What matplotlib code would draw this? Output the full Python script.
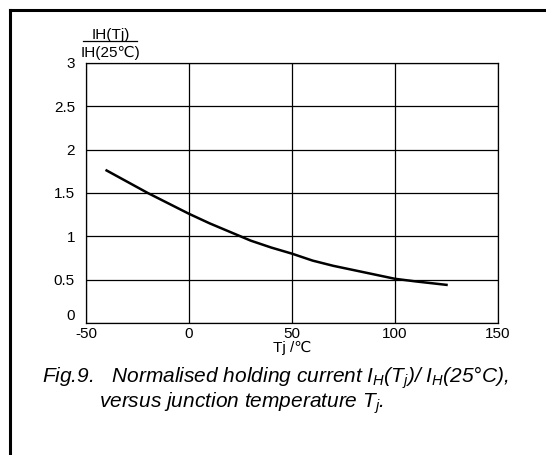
import matplotlib
matplotlib.use("Agg")
import matplotlib.pyplot as plt
from matplotlib.lines import Line2D

plt.rcParams['font.family'] = ['Liberation Sans', 'DejaVu Sans']
plt.rcParams['axes.unicode_minus'] = False
plt.rcParams['mathtext.fontset'] = 'custom'
plt.rcParams['mathtext.it'] = 'Liberation Sans:italic'
plt.rcParams['mathtext.rm'] = 'Liberation Sans:italic'

# normalised holding current vs junction temperature
tj = [-40, -30, -20, -10, 0, 10, 20, 30, 40, 50, 60, 70, 80, 90, 100, 110, 125]
ih_ratio = [1.76, 1.63, 1.50, 1.38, 1.26, 1.15, 1.05, 0.95, 0.87, 0.80,
            0.72, 0.66, 0.61, 0.56, 0.51, 0.48, 0.44]
xticks = [-50, 0, 50, 100, 150]
yticks = [0, 0.5, 1, 1.5, 2, 2.5, 3]
ytick_labels = ["0", "0.5", "1", "1.5", "2", "2.5", "3"]

fig = plt.figure(figsize=(5.46, 4.55), dpi=100)
ax = fig.add_axes([86/546, 1-323/455, 412/546, 260/455])

ax.plot(tj, ih_ratio, color="black", lw=1.8)
ax.set_xlim(-50, 150)
ax.set_ylim(0, 3)
ax.set_xticks(xticks)
ax.set_yticks(yticks)
ax.set_yticklabels(ytick_labels)
ax.grid(True, color="black", lw=0.9)
ax.tick_params(length=0, labelsize=11, pad=8)
ax.tick_params(axis="x", pad=3)
ax.get_yticklabels()[0].set_va("bottom")
for s in ax.spines.values():
    s.set_linewidth(0.9)

ax.set_xlabel("Tj /℃", fontsize=11, labelpad=0)

# y label as fraction above the axis
fig.text(111/546, 1-35/455, "IH(Tj)", ha="center", va="center", fontsize=11)
fig.add_artist(Line2D([83/546, 137/546], [1-41/455, 1-41/455], color="black", lw=0.9))
fig.text(111/546, 1-53/455, "IH(25℃)", ha="center", va="center", fontsize=11)

fig.text(42/546, 1-383/455,
         "Fig.9.   Normalised holding current $I_H(T_j)$/ $I_H$(25°C),",
         ha="left", va="baseline", fontsize=15, style="italic")
fig.text(99/546, 1-408/455,
         "versus junction temperature $T_j$.",
         ha="left", va="baseline", fontsize=15, style="italic")

# frame around the figure
fig.add_artist(Line2D([10/546, 10/546], [0, 1-10/455], color="black", lw=2.2))
fig.add_artist(Line2D([10/546, 1], [1-10/455, 1-10/455], color="black", lw=2.2))

fig.savefig("out.png", dpi=100)
